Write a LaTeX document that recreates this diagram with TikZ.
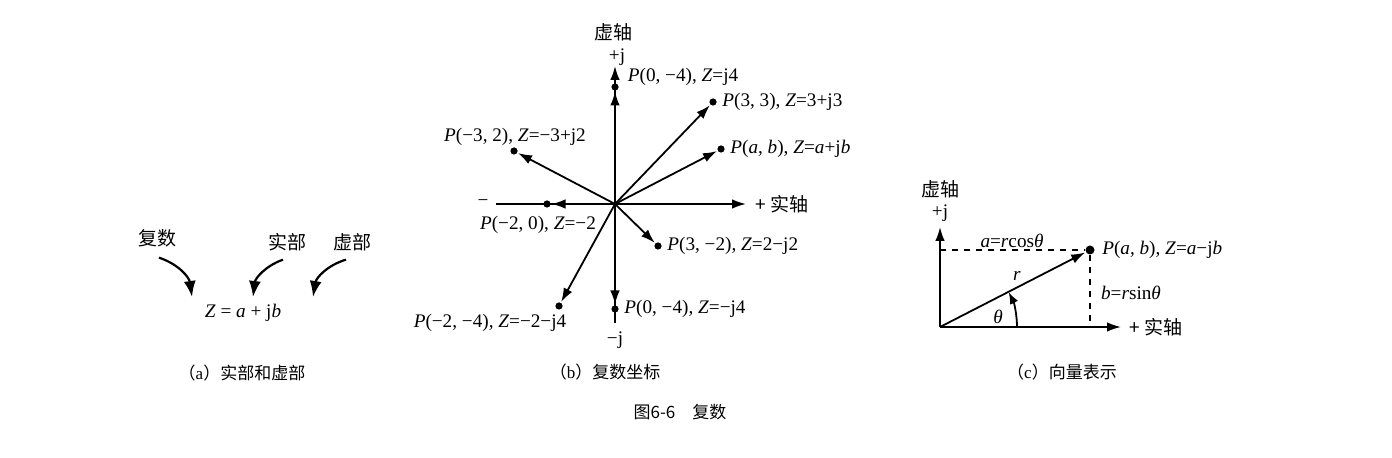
\documentclass[tikz,border=0pt]{standalone}
\usepackage{fontspec}
\setmainfont{Liberation Serif}
\newfontfamily\cjk{Noto Sans CJK SC}
\usetikzlibrary{arrows.meta,positioning,calc}

\begin{document}
\begin{tikzpicture}[x=0.5pt, y=-0.5pt, >={Latex[length=7pt,width=4.8pt]}, line width=0.9pt]
\tikzset{
lbl/.style     = {font=\fontsize{9.6}{11}\selectfont, inner sep=1pt},
axlbl/.style   = {font=\cjk\fontsize{9.5}{11}\selectfont, inner sep=1pt},
captext/.style = {font=\cjk\fontsize{8.5}{10}\selectfont, inner sep=1pt},
dot/.style     = {circle, fill, inner sep=0pt, minimum size=3.6pt},
vec/.style     = {->},
bigarr/.style  = {-{Latex[length=8pt,width=6pt]}, line width=1.1pt},
}
\useasboundingbox (0,0) rectangle (1392,458);

    % (a) real and imaginary parts
    \node [axlbl]        (fushu)   at (157,238) {复数};
    \node [axlbl]        (shibu)   at (287,242) {实部};
    \node [axlbl]        (xubu)    at (352,242) {虚部};
    \node [lbl]          (formula) at (243,313) {\textit{Z} = \textit{a} + j\textit{b}};
    \coordinate (za) at (192,297);
    \coordinate (zr) at (253,297);
    \coordinate (zi) at (313,297);
    \draw [bigarr] ([xshift=1pt,yshift=-4pt]fushu.south) to[bend left=32]  (za);
    \draw [bigarr] ([xshift=-2pt,yshift=-3pt]shibu.south) to[bend right=32] (zr);
    \draw [bigarr] ([xshift=-3pt,yshift=-3pt]xubu.south)  to[bend right=32] (zi);
    \node [captext] (capa) at (242,373) {（{\rmfamily a}）实部和虚部};

    % (b) complex plane
    \coordinate (o)  at (615,204);
    \coordinate (xl) at (496,204);
    \coordinate (xr) at (746,204);
    \coordinate (yt) at (615,66);
    \coordinate (yb) at (615,323);
    \draw [vec] (xl) -- (xr);
    \draw [vec] (yb) -- (yt);
    \node [lbl]   (minus) at (483,203) {−};
    \node [axlbl, anchor=west] (realb) at (753,204) {+ 实轴};
    \node [lbl]   (plusj) at (617,57)  {+j};
    \node [axlbl] (imagb) at (613,32)  {虚轴};
    \node [lbl]   (minj)  at (615,340) {−j};

    \node [dot] (pj4)  at (615,87)  {};
    \node [dot] (p33)  at (713,102) {};
    \node [dot] (pab)  at (721,149) {};
    \node [dot] (pm32) at (514,151) {};
    \node [dot] (pm20) at (547,204) {};
    \node [dot] (p3m2) at (658,246) {};
    \node [dot] (pm24) at (559,306) {};
    \node [dot] (pmj4) at (615,309) {};
    \foreach \p in {pj4,p33,pab,pm32,pm20,p3m2,pm24,pmj4}
        \draw [vec] (o) -- (\p);

    \node [lbl, anchor=west] at (625,77) {\textit{P}(0, −4), \textit{Z}=j4};
    \node [lbl, right=1pt of p33]  {\textit{P}(3, 3), \textit{Z}=3+j3};
    \node [lbl, right=1pt of pab]  {\textit{P}(\textit{a}, \textit{b}), \textit{Z}=\textit{a}+j\textit{b}};
    \node [lbl] at (515,137)       {\textit{P}(−3, 2), \textit{Z}=−3+j2};
    \node [lbl] at (538,225)       {\textit{P}(−2, 0), \textit{Z}=−2};
    \node [lbl, right=1pt of p3m2] {\textit{P}(3, −2), \textit{Z}=2−j2};
    \node [lbl] at (490,323)       {\textit{P}(−2, −4), \textit{Z}=−2−j4};
    \node [lbl, right=1pt of pmj4] {\textit{P}(0, −4), \textit{Z}=−j4};
    \node [captext] (capb) at (605,372) {（{\rmfamily b}）复数坐标};

    % (c) vector form
    \coordinate (oc) at (940,327);
    \coordinate (cx) at (1121,327);
    \coordinate (cy) at (940,227);
    \coordinate (cxa) at (940,250);
    \coordinate (cxb) at (1090,327);
    \draw [vec] (oc) -- (cx);
    \draw [vec] (oc) -- (cy);
    \node [dot, minimum size=4.5pt] (pc) at (1090,250) {};
    \draw [dashed, line width=0.6pt] (cxa) -- (pc) -- (cxb);
    \draw [vec] (oc) -- (pc);
    \draw [-{Latex[length=6pt,width=4.4pt]}] ($(oc)+(77,0)$) arc[start angle=0, end angle=-27, radius=77];
    \node [axlbl] (imagc) at (940,189) {虚轴};
    \node [lbl]   (plusjc) at (940,213) {+j};
    \node [axlbl, anchor=west] (realc) at (1127,327) {+ 实轴};
    \node [lbl, right=2pt of pc] {\textit{P}(\textit{a}, \textit{b}), \textit{Z}=\textit{a}−j\textit{b}};
    \node [lbl] at (1012,241) {\textit{a}=\textit{r}cos\textit{θ}};
    \node [lbl] at (1017,276) {\textit{r}};
    \node [lbl] at (1131,293) {\textit{b}=\textit{r}sin\textit{θ}};
    \node [lbl] at (998,317)  {\textit{θ}};
    \node [captext] (capc) at (1062,372) {（{\rmfamily c}）向量表示};

    % figure caption
    \node [captext] (fig) at (680,412) {图6-6\quad 复数};

\end{tikzpicture}
\end{document}
